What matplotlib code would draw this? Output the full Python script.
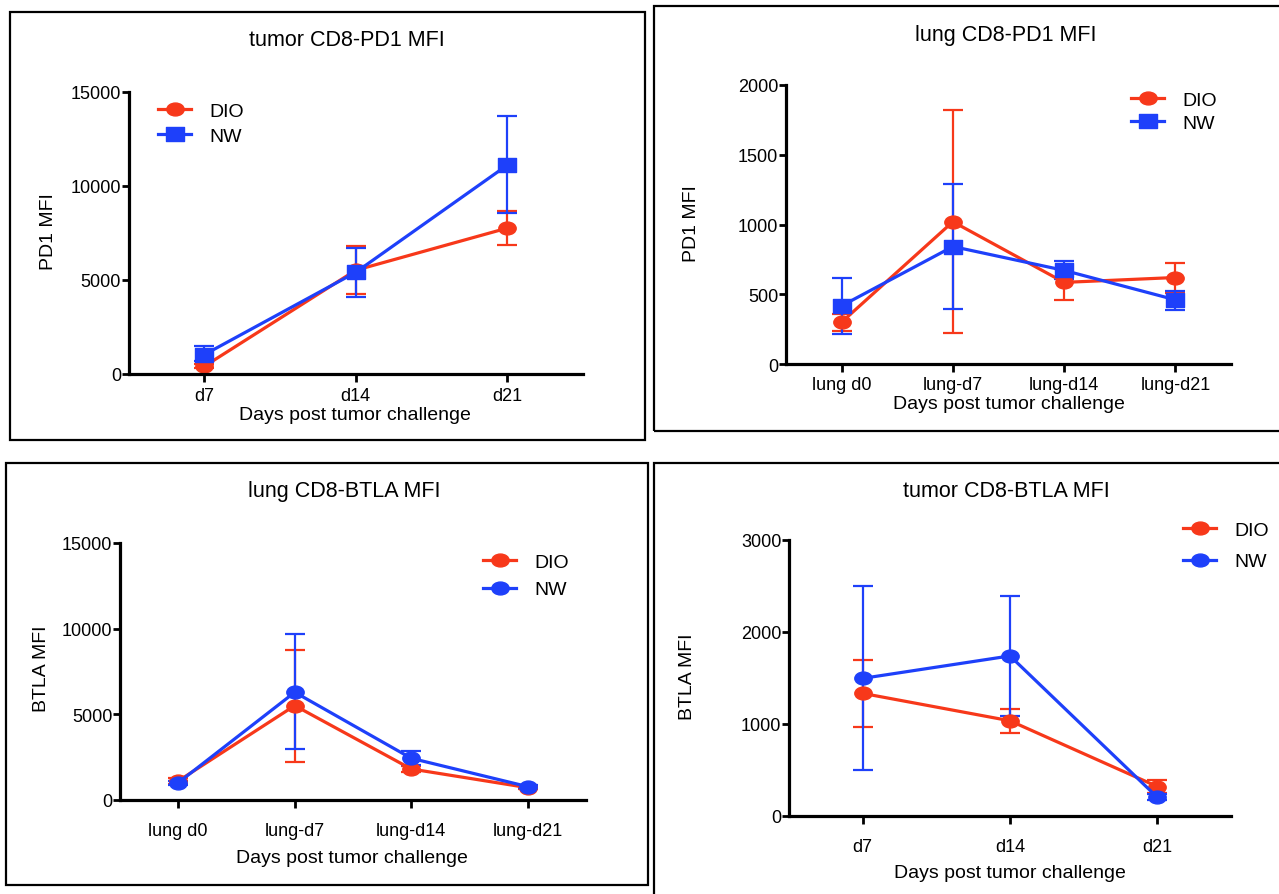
import matplotlib as mpl
mpl.use("Agg")
import matplotlib.pyplot as plt
import numpy as np
from matplotlib.patches import Rectangle
from matplotlib.path import Path
from matplotlib.transforms import Affine2D

mpl.rcParams.update({
    "font.family": ["Liberation Sans", "DejaVu Sans"],
    "axes.spines.right": False,
    "axes.spines.top": False,
    "axes.linewidth": 2.3,
    "legend.frameon": False,
})

RED = "#F7381A"
BLUE = "#1E40FA"

# ---- data ----
tumor_days = ["d7", "d14", "d21"]
lung_days = ["lung d0", "lung-d7", "lung-d14", "lung-d21"]

pd1_tumor_dio = [410, 5520, 7760]
pd1_tumor_dio_lo = [300, 4230, 6850]
pd1_tumor_dio_hi = [520, 6800, 8660]
pd1_tumor_nw = [1030, 5410, 11110]
pd1_tumor_nw_lo = [680, 4080, 8540]
pd1_tumor_nw_hi = [1510, 6710, 13720]

pd1_lung_dio = [300, 1020, 585, 620]
pd1_lung_dio_lo = [237, 221, 460, 508]
pd1_lung_dio_hi = [357, 1820, 681, 727]
pd1_lung_nw = [417, 842, 671, 460]
pd1_lung_nw_lo = [213, 393, 609, 388]
pd1_lung_nw_hi = [616, 1288, 741, 525]

btla_lung_dio = [1110, 5510, 1810, 720]
btla_lung_dio_lo = [960, 2240, 1620, 640]
btla_lung_dio_hi = [1260, 8770, 2000, 800]
btla_lung_nw = [1010, 6290, 2435, 780]
btla_lung_nw_lo = [900, 2960, 2045, 700]
btla_lung_nw_hi = [1120, 9680, 2860, 860]

btla_tumor_dio = [1333, 1035, 320]
btla_tumor_dio_lo = [966, 901, 247]
btla_tumor_dio_hi = [1700, 1166, 392]
btla_tumor_nw = [1496, 1740, 203]
btla_tumor_nw_lo = [501, 1090, 170]
btla_tumor_nw_hi = [2499, 2390, 236]

# the source picture is stretched sideways, so markers are a bit wide
STRETCH = 1.35
CIRCLE = Path.unit_circle().transformed(Affine2D().scale(STRETCH, 1.0))
SQUARE = Path([(-STRETCH, -1), (STRETCH, -1), (STRETCH, 1), (-STRETCH, 1), (-STRETCH, -1)],
              [Path.MOVETO, Path.LINETO, Path.LINETO, Path.LINETO, Path.CLOSEPOLY])

W, H = 1279, 895


def fx(px):
    return px / W


def fy(py):
    return 1 - py / H


panels = [
    dict(title="tumor CD8-PD1 MFI", ylabel="PD1 MFI", cats=tumor_days, ymax=15000, step=5000,
         dio=(pd1_tumor_dio, pd1_tumor_dio_lo, pd1_tumor_dio_hi),
         nw=(pd1_tumor_nw, pd1_tumor_nw_lo, pd1_tumor_nw_hi), nw_marker=SQUARE,
         ax=(128.6, 93, 583, 375), box=(10, 13, 645, 441),
         title_xy=(347, 41), xlab_xy=(355, 416), ylab_xy=(48, 232), xpad=4,
         leg=(158, 124.5), legsp=0.4),
    dict(title="lung CD8-PD1 MFI", ylabel="PD1 MFI", cats=lung_days, ymax=2000, step=500,
         dio=(pd1_lung_dio, pd1_lung_dio_lo, pd1_lung_dio_hi),
         nw=(pd1_lung_nw, pd1_lung_nw_lo, pd1_lung_nw_hi), nw_marker=SQUARE,
         ax=(786, 86, 1231, 365), box=(654, 7, 1290, 432),
         title_xy=(1006, 35), xlab_xy=(1009, 405), ylab_xy=(691, 224), xpad=3,
         leg=(1131, 112.5), legsp=0.3),
    dict(title="lung CD8-BTLA MFI", ylabel="BTLA MFI", cats=lung_days, ymax=15000, step=5000,
         dio=(btla_lung_dio, btla_lung_dio_lo, btla_lung_dio_hi),
         nw=(btla_lung_nw, btla_lung_nw_lo, btla_lung_nw_hi), nw_marker=CIRCLE,
         ax=(120, 544, 586, 801), box=(6, 464, 648, 886),
         title_xy=(344, 492), xlab_xy=(352, 859), ylab_xy=(42, 669), xpad=10,
         leg=(483, 577), legsp=0.5),
    dict(title="tumor CD8-BTLA MFI", ylabel="BTLA MFI", cats=tumor_days, ymax=3000, step=1000,
         dio=(btla_tumor_dio, btla_tumor_dio_lo, btla_tumor_dio_hi),
         nw=(btla_tumor_nw, btla_tumor_nw_lo, btla_tumor_nw_hi), nw_marker=CIRCLE,
         ax=(789, 541, 1231, 817), box=(654, 464, 1290, 910),
         title_xy=(1006, 492), xlab_xy=(1010, 874), ylab_xy=(688, 677), xpad=10,
         leg=(1183, 547), legsp=0.7),
]

fig = plt.figure(figsize=(W / 100, H / 100), dpi=100, facecolor="white")

for p in panels:
    bx0, by0, bx1, by1 = p["box"]
    fig.add_artist(Rectangle((fx(bx0), fy(by1)), fx(bx1) - fx(bx0), fy(by0) - fy(by1),
                             transform=fig.transFigure, fill=False, ec="black", lw=1.6))

    l, t, r, b = p["ax"]
    ax = fig.add_axes([fx(l), fy(b), fx(r) - fx(l), fy(t) - fy(b)])
    x = np.arange(len(p["cats"]))

    handles = []
    for (mean, lo, hi), color, marker, ms in [(p["dio"], RED, CIRCLE, 12.5),
                                               (p["nw"], BLUE, p["nw_marker"],
                                                13.5 if p["nw_marker"] is SQUARE else 12.5)]:
        mean = np.array(mean)
        yerr = [mean - np.array(lo), np.array(hi) - mean]
        eb = ax.errorbar(x, mean, yerr=yerr, color=color, lw=2.3, marker=marker, ms=ms,
                         elinewidth=1.6, capsize=7, capthick=1.6, clip_on=False)
        handles.append(eb.lines[0])

    ax.set_xlim(-0.5, len(p["cats"]) - 0.5)
    ax.set_ylim(0, p["ymax"])
    ax.set_yticks(np.arange(0, p["ymax"] + 1, p["step"]))
    ax.set_xticks(x)
    ax.set_xticklabels(p["cats"])
    ax.tick_params(axis="y", direction="out", length=5, width=2, pad=0.5, labelsize=13)
    ax.tick_params(axis="x", direction="out", length=5.5, width=2, pad=p["xpad"], labelsize=13)

    ax.set_xlabel("Days post tumor challenge", fontsize=14, va="center")
    ax.xaxis.set_label_coords(fx(p["xlab_xy"][0]), fy(p["xlab_xy"][1]), transform=fig.transFigure)
    ax.set_ylabel(p["ylabel"], fontsize=14, va="center")
    ax.yaxis.set_label_coords(fx(p["ylab_xy"][0]), fy(p["ylab_xy"][1]), transform=fig.transFigure)

    fig.text(fx(p["title_xy"][0]), fy(p["title_xy"][1]), p["title"], fontsize=15.5,
             ha="center", va="center")

    ax.legend(handles, ["DIO", "NW"], loc="center left",
              bbox_to_anchor=(fx(p["leg"][0]), fy(p["leg"][1])), bbox_transform=fig.transFigure,
              borderpad=0, borderaxespad=0, handlelength=1.7, handletextpad=0.95,
              labelspacing=p["legsp"], fontsize=14)

fig.savefig("out.png", dpi=100, facecolor="white")
plt.close()
